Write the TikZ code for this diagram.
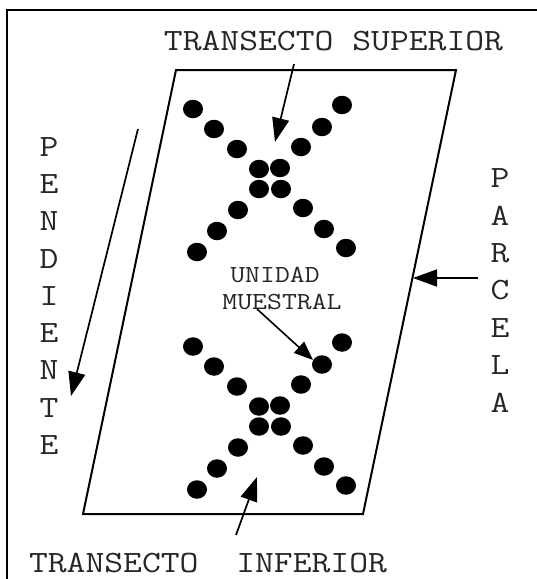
\documentclass[tikz,border=0pt]{standalone}
\usetikzlibrary{arrows.meta,shapes.geometric}

% typewriter lettering, slightly widened
\newcommand\widetxt[1]{\scalebox{1.18}[1]{#1}}
\newcommand\bigtt{\fontsize{31}{31}\selectfont\ttfamily}
\newcommand\smalltt{\fontsize{24.5}{24.5}\selectfont\ttfamily}

\tikzset{
  frameline/.style={line width=1.8pt},
  plotline/.style={line width=2pt, line join=miter},
  dot/.style={ellipse, fill=black, draw=none, minimum width=20pt, minimum height=18.5pt, inner sep=0pt},
  lbl/.style={font=\bigtt, inner sep=0pt, text=black!85},
  slbl/.style={font=\smalltt, inner sep=0pt, text=black!85},
  pointer/.style={line width=1.7pt, -{Triangle[length=24pt, width=17pt]}},
  spointer/.style={line width=1.6pt, -{Triangle[length=19pt, width=15pt]}}
}

\begin{document}
\begin{tikzpicture}[x=1pt, y=-1pt]
  \useasboundingbox (0,0) rectangle (537,579);

  % outer frame (left and top edges)
  \coordinate (fbl) at (7,579);
  \coordinate (ftl) at (7,10);
  \coordinate (ftr) at (537,10);
  \draw[frameline] (fbl) -- (ftl) -- (ftr);

  % plot (parallelogram on the slope)
  \coordinate (ptl) at (176,70);
  \coordinate (ptr) at (456,70);
  \coordinate (pbr) at (363,514);
  \coordinate (pbl) at (83,514);
  \draw[plotline] (ptl) -- (ptr) -- (pbr) -- (pbl) -- cycle;

  % two sampling transects, each an X of dots
  \foreach \sh/\tag in {0/a, 237.5/b} {
    \foreach \px/\py [count=\k] in {
        193/109, 214/129, 237/149,
        259/169, 280/168, 259/189, 281/189,
        342/105, 322/127, 301/147,
        238/210, 217/231, 197/252,
        303/208, 324/229, 346/248} {
      \node[dot] (\tag\k) at (\px,\py+\sh) {};
    }
  }

  % labels
  \node[lbl] (tsup) at (333.5,41) {\widetxt{TRANSECTO SUPERIOR}};
  \node[lbl] (tinf) at (208,563) {\widetxt{TRANSECTO~~INFERIOR}};
  \node[slbl] (unid) at (275,275) {\widetxt{UNIDAD}};
  \node[slbl] (mues) at (282,302) {\widetxt{MUESTRAL}};

  \foreach \ch [count=\i] in {P,E,N,D,I,E,N,T,E}
    \node[lbl] (pend\i) at (49,147+37.25*\i-37.25) {\widetxt{\ch}};
  \foreach \ch [count=\i] in {P,A,R,C,E,L,A}
    \node[lbl] (parc\i) at (500,178+37.5*\i-37.5) {\widetxt{\ch}};

  % pointers
  \coordinate (supS) at (294,64);
  \coordinate (supE) at (275,142);
  \draw[pointer] (supS) -- (supE);

  \coordinate (penS) at (138,129);
  \coordinate (penE) at (71,396);
  \draw[pointer] (penS) -- (penE);

  \coordinate (parS) at (478,278);
  \coordinate (parE) at (413,278);
  \draw[pointer] (parS) -- (parE);

  \coordinate (uniS) at (257,309);
  \coordinate (uniE) at (313,360);
  \draw[spointer] (uniS) -- (uniE);

  \coordinate (infS) at (236,535);
  \coordinate (infE) at (257,477);
  \draw[pointer] (infS) -- (infE);
\end{tikzpicture}
\end{document}
